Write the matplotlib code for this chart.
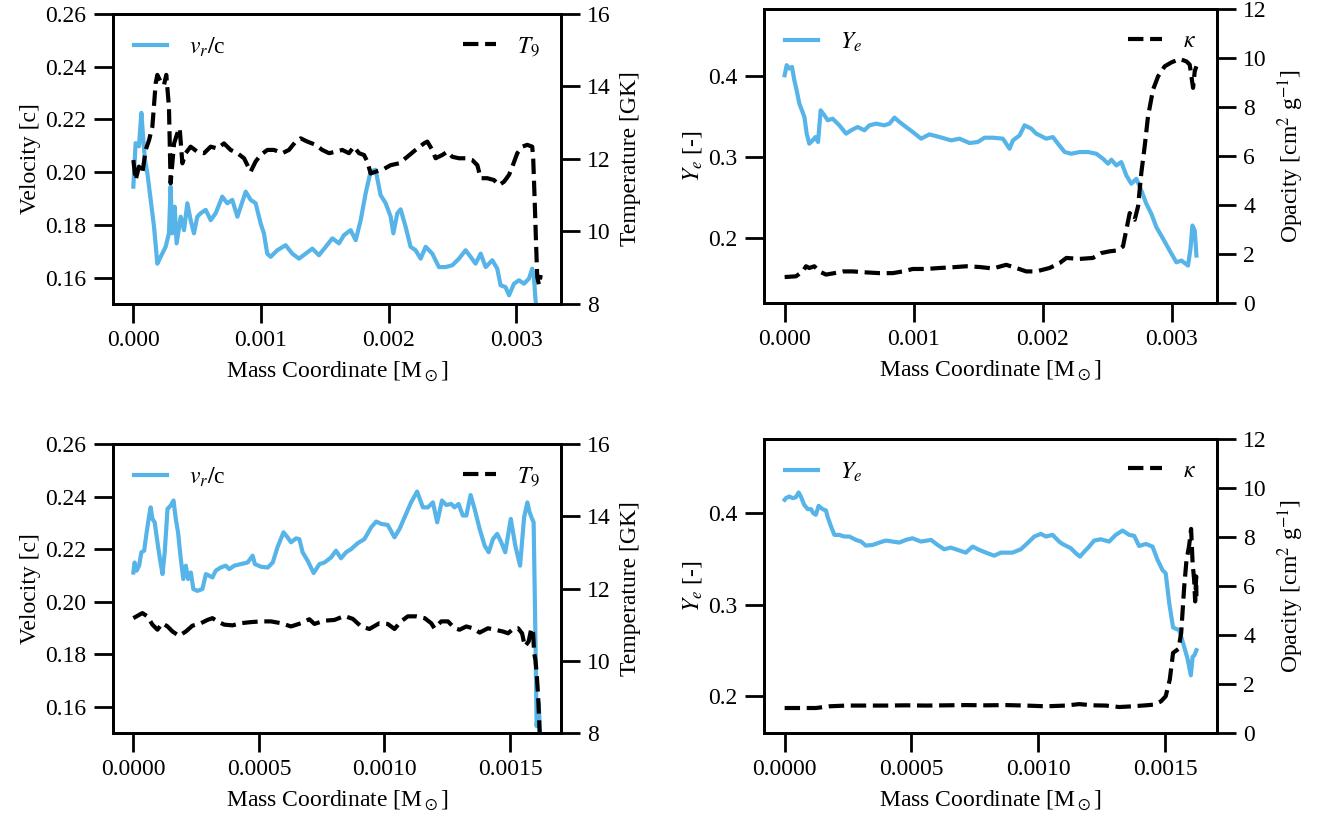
import numpy as np
import matplotlib
matplotlib.use("Agg")
import matplotlib.pyplot as plt

plt.rcParams['font.family'] = ['Liberation Serif', 'DejaVu Serif']
plt.rcParams['mathtext.fontset'] = 'stix'
plt.rcParams['font.size'] = 17

BLUE = '#56B4E9'

# ---- data (mass coordinate in units of 1e-3 Msun) ----
# top-left: velocity and temperature
m_vel_a = [0, 0.018, 0.044, 0.063, 0.078, 0.091, 0.110, 0.136, 0.162, 0.188, 0.214, 0.253, 0.279, 0.292,
           0.305, 0.324, 0.339, 0.371, 0.397, 0.423, 0.449, 0.475, 0.501, 0.527, 0.567, 0.606, 0.645, 0.697,
           0.736, 0.775, 0.815, 0.841, 0.880, 0.919, 0.958, 0.997, 1.023, 1.049, 1.076, 1.128, 1.193, 1.245,
           1.298, 1.350, 1.402, 1.454, 1.507, 1.559, 1.611, 1.650, 1.702, 1.742, 1.781, 1.820, 1.859, 1.898,
           1.937, 1.977, 2.016, 2.037, 2.068, 2.094, 2.133, 2.172, 2.211, 2.251, 2.290, 2.342, 2.394, 2.446,
           2.499, 2.551, 2.603, 2.642, 2.681, 2.721, 2.760, 2.812, 2.851, 2.877, 2.916, 2.943, 2.982, 3.021,
           3.060, 3.099, 3.125, 3.138, 3.151, 3.164]
vel_a = [0.1945, 0.2110, 0.2098, 0.2225, 0.2123, 0.2047, 0.1996, 0.1895, 0.1793, 0.1653, 0.1679, 0.1717,
         0.1768, 0.1945, 0.1768, 0.1869, 0.1730, 0.1831, 0.1780, 0.1882, 0.1818, 0.1768, 0.1831, 0.1844,
         0.1857, 0.1818, 0.1844, 0.1907, 0.1882, 0.1895, 0.1831, 0.1869, 0.1926, 0.1895, 0.1882, 0.1806,
         0.1768, 0.1691, 0.1679, 0.1704, 0.1723, 0.1691, 0.1672, 0.1691, 0.1710, 0.1685, 0.1717, 0.1749,
         0.1730, 0.1761, 0.1780, 0.1742, 0.1818, 0.1920, 0.2003, 0.2009, 0.1913, 0.1882, 0.1831, 0.1768,
         0.1844, 0.1859, 0.1793, 0.1717, 0.1704, 0.1672, 0.1717, 0.1691, 0.1640, 0.1640, 0.1647, 0.1672,
         0.1704, 0.1679, 0.1653, 0.1691, 0.1640, 0.1666, 0.1634, 0.1571, 0.1564, 0.1533, 0.1577, 0.1590,
         0.1577, 0.1596, 0.1634, 0.1602, 0.1514, 0.1450]
m_temp_a = [0, 0.018, 0.044, 0.070, 0.097, 0.123, 0.149, 0.175, 0.188, 0.214, 0.240, 0.258, 0.279, 0.292,
            0.319, 0.345, 0.363, 0.384, 0.410, 0.449, 0.501, 0.554, 0.606, 0.658, 0.710, 0.762, 0.815, 0.867,
            0.919, 0.958, 0.997, 1.050, 1.102, 1.167, 1.219, 1.272, 1.311, 1.363, 1.428, 1.480, 1.533, 1.585,
            1.637, 1.689, 1.728, 1.768, 1.807, 1.833, 1.859, 1.898, 1.950, 2.016, 2.081, 2.146, 2.211, 2.277,
            2.303, 2.342, 2.368, 2.420, 2.460, 2.499, 2.551, 2.603, 2.655, 2.695, 2.721, 2.773, 2.825, 2.864,
            2.903, 2.943, 2.969, 3.008, 3.047, 3.086, 3.125, 3.133, 3.144, 3.154, 3.164, 3.178, 3.191]
temp_a = [11.97, 11.42, 11.79, 11.60, 12.25, 12.52, 12.89, 14.09, 14.32, 14.13, 14.04, 14.32, 13.44, 11.33,
          12.43, 12.71, 12.85, 11.88, 12.16, 12.34, 12.20, 12.16, 12.34, 12.29, 12.43, 12.25, 12.16, 12.02,
          11.65, 11.93, 12.11, 12.25, 12.25, 12.16, 12.25, 12.48, 12.57, 12.48, 12.39, 12.25, 12.16, 12.20,
          12.25, 12.16, 12.34, 12.16, 12.11, 11.93, 11.60, 11.65, 11.70, 11.83, 11.88, 12.06, 12.25, 12.43,
          12.48, 12.25, 12.02, 12.11, 12.20, 12.06, 12.02, 12.02, 11.97, 11.83, 11.47, 11.47, 11.42, 11.28,
          11.37, 11.56, 11.79, 12.16, 12.34, 12.39, 12.34, 11.97, 10.87, 9.77, 8.75, 8.52, 8.80]

# top-right: electron fraction and opacity
m_ye_a = [0, 0.016, 0.036, 0.057, 0.075, 0.093, 0.114, 0.134, 0.153, 0.171, 0.191, 0.217, 0.238, 0.259,
          0.279, 0.308, 0.334, 0.372, 0.424, 0.476, 0.515, 0.566, 0.618, 0.657, 0.709, 0.773, 0.812, 0.851,
          0.890, 0.941, 0.993, 1.058, 1.122, 1.200, 1.290, 1.355, 1.433, 1.497, 1.549, 1.614, 1.691, 1.743,
          1.769, 1.821, 1.859, 1.911, 1.950, 2.027, 2.079, 2.118, 2.170, 2.221, 2.286, 2.351, 2.415, 2.467,
          2.506, 2.532, 2.570, 2.609, 2.648, 2.687, 2.726, 2.764, 2.803, 2.842, 2.881, 2.933, 2.984, 3.036,
          3.075, 3.126, 3.145, 3.160, 3.178, 3.191]
ye_a = [0.4012, 0.4136, 0.4095, 0.4115, 0.3951, 0.3827, 0.3662, 0.3579, 0.3497, 0.3291, 0.3167, 0.3208,
        0.3249, 0.3188, 0.3579, 0.3518, 0.3456, 0.3476, 0.3394, 0.3291, 0.3332, 0.3373, 0.3332, 0.3394,
        0.3414, 0.3394, 0.3414, 0.3489, 0.3435, 0.3373, 0.3311, 0.3229, 0.3282, 0.3249, 0.3208, 0.3229,
        0.3175, 0.3188, 0.3241, 0.3241, 0.3229, 0.3105, 0.3208, 0.3270, 0.3394, 0.3353, 0.3291, 0.3229,
        0.3249, 0.3167, 0.3064, 0.3043, 0.3064, 0.3064, 0.3043, 0.2981, 0.2920, 0.2969, 0.2899, 0.2940,
        0.2775, 0.2672, 0.2734, 0.2590, 0.2425, 0.2301, 0.2136, 0.1992, 0.1847, 0.1703, 0.1724, 0.1662,
        0.1868, 0.2157, 0.2095, 0.1786]
m_kap_a = [0, 0.088, 0.140, 0.166, 0.191, 0.230, 0.269, 0.321, 0.385, 0.450, 0.528, 0.631, 0.734, 0.838,
           0.915, 0.993, 1.096, 1.200, 1.303, 1.407, 1.510, 1.614, 1.717, 1.795, 1.872, 1.950, 2.053, 2.131,
           2.183, 2.286, 2.389, 2.454, 2.519, 2.583, 2.622, 2.648, 2.674, 2.713, 2.739, 2.764, 2.790, 2.816,
           2.855, 2.894, 2.945, 2.997, 3.062, 3.114, 3.139, 3.165, 3.178, 3.191]
kap_a = [1.06, 1.09, 1.29, 1.50, 1.43, 1.50, 1.29, 1.16, 1.22, 1.29, 1.29, 1.25, 1.22, 1.22, 1.29, 1.39,
         1.39, 1.43, 1.46, 1.50, 1.47, 1.41, 1.56, 1.43, 1.29, 1.29, 1.43, 1.63, 1.84, 1.80, 1.84, 2.04,
         2.11, 2.15, 2.31, 2.99, 3.67, 3.40, 3.95, 5.31, 6.39, 7.62, 8.71, 9.25, 9.66, 9.82, 9.96, 9.86,
         9.73, 8.78, 9.46, 9.66]

# bottom-left: velocity and temperature
m_vel_b = [0, 0.005, 0.013, 0.023, 0.032, 0.043, 0.053, 0.063, 0.069, 0.076, 0.085, 0.096, 0.106, 0.116,
           0.125, 0.136, 0.149, 0.160, 0.169, 0.178, 0.189, 0.199, 0.209, 0.218, 0.229, 0.239, 0.255, 0.275,
           0.289, 0.302, 0.315, 0.328, 0.348, 0.368, 0.382, 0.402, 0.428, 0.455, 0.475, 0.484, 0.508, 0.535,
           0.555, 0.574, 0.598, 0.614, 0.628, 0.648, 0.661, 0.674, 0.694, 0.718, 0.741, 0.761, 0.787, 0.807,
           0.827, 0.847, 0.867, 0.894, 0.920, 0.947, 0.967, 0.987, 1.013, 1.040, 1.060, 1.080, 1.106, 1.130,
           1.153, 1.173, 1.193, 1.210, 1.229, 1.246, 1.266, 1.279, 1.295, 1.312, 1.326, 1.343, 1.359, 1.379,
           1.399, 1.415, 1.432, 1.449, 1.465, 1.481, 1.503, 1.521, 1.540, 1.556, 1.569, 1.578, 1.588, 1.594,
           1.598, 1.602, 1.606, 1.614, 1.620]
vel_b = [0.2111, 0.2149, 0.2118, 0.2137, 0.2188, 0.2194, 0.2264, 0.2328, 0.2359, 0.2315, 0.2302, 0.2226,
         0.2162, 0.2105, 0.2188, 0.2353, 0.2366, 0.2385, 0.2315, 0.2264, 0.2162, 0.2086, 0.2137, 0.2086,
         0.2111, 0.2048, 0.2041, 0.2048, 0.2105, 0.2099, 0.2092, 0.2118, 0.2130, 0.2137, 0.2124, 0.2137,
         0.2143, 0.2149, 0.2175, 0.2143, 0.2133, 0.2130, 0.2149, 0.2207, 0.2264, 0.2245, 0.2226, 0.2241,
         0.2238, 0.2188, 0.2156, 0.2109, 0.2143, 0.2149, 0.2168, 0.2194, 0.2165, 0.2188, 0.2200, 0.2223,
         0.2238, 0.2283, 0.2305, 0.2296, 0.2292, 0.2245, 0.2277, 0.2321, 0.2378, 0.2419, 0.2359, 0.2359,
         0.2378, 0.2302, 0.2385, 0.2368, 0.2372, 0.2359, 0.2372, 0.2328, 0.2328, 0.2406, 0.2353, 0.2277,
         0.2213, 0.2188, 0.2238, 0.2258, 0.2226, 0.2188, 0.2315, 0.2213, 0.2137, 0.2321, 0.2378, 0.2340,
         0.2315, 0.2302, 0.2060, 0.1806, 0.1526, 0.1615, 0.1488]
m_temp_b = [0, 0.023, 0.036, 0.056, 0.076, 0.096, 0.116, 0.136, 0.156, 0.182, 0.209, 0.235, 0.269, 0.295,
            0.315, 0.335, 0.362, 0.395, 0.428, 0.468, 0.508, 0.548, 0.588, 0.628, 0.668, 0.701, 0.721, 0.761,
            0.801, 0.840, 0.874, 0.907, 0.940, 0.980, 1.013, 1.040, 1.066, 1.093, 1.126, 1.160, 1.186, 1.199,
            1.226, 1.253, 1.279, 1.299, 1.326, 1.352, 1.379, 1.412, 1.439, 1.472, 1.492, 1.512, 1.532, 1.548,
            1.559, 1.574, 1.585, 1.592, 1.596, 1.601, 1.606, 1.612, 1.618, 1.622]
temp_b = [11.18, 11.27, 11.32, 11.23, 11.00, 10.86, 11.04, 10.95, 10.81, 10.69, 10.81, 10.97, 11.04, 11.13,
          11.18, 11.09, 11.00, 10.98, 11.04, 11.07, 11.09, 11.09, 11.04, 10.95, 11.04, 11.15, 11.02, 11.11,
          11.13, 11.24, 11.16, 10.95, 10.88, 11.04, 11.02, 10.88, 11.09, 11.23, 11.23, 11.18, 11.04, 10.90,
          11.09, 11.09, 10.90, 10.86, 10.95, 10.90, 10.78, 10.90, 10.86, 10.81, 10.76, 10.88, 10.90, 10.76,
          10.40, 10.53, 10.90, 10.76, 10.21, 10.03, 9.66, 9.01, 8.00, 7.60]

# bottom-right: electron fraction and opacity
m_ye_b = [0, 0.005, 0.018, 0.032, 0.045, 0.055, 0.064, 0.077, 0.091, 0.104, 0.113, 0.123, 0.134, 0.150,
          0.163, 0.169, 0.183, 0.196, 0.215, 0.235, 0.255, 0.281, 0.301, 0.320, 0.347, 0.373, 0.399, 0.426,
          0.452, 0.478, 0.504, 0.537, 0.577, 0.603, 0.629, 0.655, 0.682, 0.714, 0.741, 0.767, 0.800, 0.826,
          0.852, 0.898, 0.931, 0.957, 0.984, 1.010, 1.030, 1.056, 1.082, 1.095, 1.128, 1.148, 1.164, 1.181,
          1.200, 1.220, 1.246, 1.279, 1.305, 1.332, 1.358, 1.378, 1.397, 1.424, 1.450, 1.470, 1.489, 1.502,
          1.516, 1.531, 1.555, 1.571, 1.588, 1.601, 1.608, 1.615, 1.623]
ye_b = [0.4146, 0.4164, 0.4182, 0.4164, 0.4175, 0.4226, 0.4182, 0.4091, 0.4044, 0.4044, 0.4000, 0.3982,
        0.4080, 0.4044, 0.4029, 0.3964, 0.3854, 0.3763, 0.3763, 0.3745, 0.3745, 0.3708, 0.3690, 0.3646,
        0.3653, 0.3679, 0.3701, 0.3690, 0.3679, 0.3708, 0.3726, 0.3690, 0.3708, 0.3653, 0.3606, 0.3624,
        0.3599, 0.3569, 0.3635, 0.3599, 0.3562, 0.3536, 0.3569, 0.3569, 0.3606, 0.3672, 0.3745, 0.3774,
        0.3745, 0.3763, 0.3690, 0.3664, 0.3617, 0.3562, 0.3526, 0.3580, 0.3635, 0.3701, 0.3715, 0.3690,
        0.3763, 0.3810, 0.3763, 0.3752, 0.3642, 0.3664, 0.3635, 0.3489, 0.3380, 0.3343, 0.3015, 0.2752,
        0.2723, 0.2577, 0.2412, 0.2230, 0.2431, 0.2449, 0.2504]
m_kap_b = [0, 0.058, 0.123, 0.176, 0.242, 0.320, 0.399, 0.478, 0.557, 0.636, 0.714, 0.793, 0.872, 0.951,
           1.030, 1.108, 1.161, 1.214, 1.266, 1.319, 1.371, 1.424, 1.457, 1.483, 1.502, 1.518, 1.531, 1.552,
           1.563, 1.575, 1.584, 1.594, 1.602, 1.608, 1.614, 1.618, 1.622, 1.623]
kap_b = [1.02, 1.02, 1.02, 1.09, 1.12, 1.12, 1.12, 1.13, 1.12, 1.13, 1.14, 1.13, 1.14, 1.12, 1.09, 1.12,
         1.18, 1.13, 1.12, 1.06, 1.09, 1.13, 1.16, 1.29, 1.50, 2.18, 3.27, 3.43, 4.08, 5.99, 7.07, 7.62,
         8.33, 6.94, 6.26, 5.37, 6.39, 5.58]

xticks_top = [0.0, 0.001, 0.002, 0.003]
xticks_bot = [0.0, 0.0005, 0.0010, 0.0015]
xticklabels_top = ['0.000', '0.001', '0.002', '0.003']
xticklabels_bot = ['0.0000', '0.0005', '0.0010', '0.0015']

fig = plt.figure(figsize=(13.26, 8.17), dpi=100)


def style(ax):
    for s in ax.spines.values():
        s.set_linewidth(2.0)
    ax.tick_params(direction='out', length=14, width=2.0, labelsize=17, pad=5)


def panel(rect, m1, y1, m2, y2, lab1, lab2, ylab1, ylab2, ylim1, ylim2,
          yt1, yt2, xt, xtl):
    ax = fig.add_axes(rect)
    ax2 = ax.twinx()
    ax.plot(np.array(m1) * 1e-3, y1, color=BLUE, lw=3, label=lab1)
    ax2.plot(np.array(m2) * 1e-3, y2, color='black', lw=3, ls='--', label=lab2)
    ax.set_ylim(*ylim1)
    ax2.set_ylim(*ylim2)
    ax.set_yticks(yt1)
    ax2.set_yticks(yt2)
    ax.set_xticks(xt)
    ax.set_xticklabels(xtl)
    ax.set_xlabel(r'Mass Coordinate [M$_\odot$]', fontsize=17, labelpad=6)
    ax.set_ylabel(ylab1, fontsize=17, labelpad=3)
    ax2.set_ylabel(ylab2, fontsize=17, labelpad=6)
    style(ax)
    style(ax2)
    ax.legend(loc='upper left', frameon=False, fontsize=17, handlelength=1.4,
              handletextpad=0.9)
    ax2.legend(loc='upper right', frameon=False, fontsize=17, handlelength=1.4,
               handletextpad=0.9)
    return ax, ax2


panel([0.0852, 0.6279, 0.3379, 0.3550], m_vel_a, vel_a, m_temp_a, temp_a,
      r'$v_r/$c', r'$T_9$', 'Velocity [c]', 'Temperature [GK]',
      (0.15, 0.26), (8, 16), [0.16, 0.18, 0.20, 0.22, 0.24, 0.26], [8, 10, 12, 14, 16],
      xticks_top, xticklabels_top)
panel([0.5762, 0.6291, 0.3416, 0.3599], m_ye_a, ye_a, m_kap_a, kap_a,
      r'$Y_e$', r'$\kappa$', r'$Y_e$ [-]', r'Opacity [cm$^2$ g$^{-1}$]',
      (0.12, 0.483), (0, 12), [0.2, 0.3, 0.4], [0, 2, 4, 6, 8, 10, 12],
      xticks_top, xticklabels_top)
panel([0.0852, 0.1028, 0.3379, 0.3537], m_vel_b, vel_b, m_temp_b, temp_b,
      r'$v_r/$c', r'$T_9$', 'Velocity [c]', 'Temperature [GK]',
      (0.15, 0.26), (8, 16), [0.16, 0.18, 0.20, 0.22, 0.24, 0.26], [8, 10, 12, 14, 16],
      xticks_bot, xticklabels_bot)
panel([0.5762, 0.1028, 0.3416, 0.3599], m_ye_b, ye_b, m_kap_b, kap_b,
      r'$Y_e$', r'$\kappa$', r'$Y_e$ [-]', r'Opacity [cm$^2$ g$^{-1}$]',
      (0.16, 0.481), (0, 12), [0.2, 0.3, 0.4], [0, 2, 4, 6, 8, 10, 12],
      xticks_bot, xticklabels_bot)

fig.savefig('out.png', dpi=100)
